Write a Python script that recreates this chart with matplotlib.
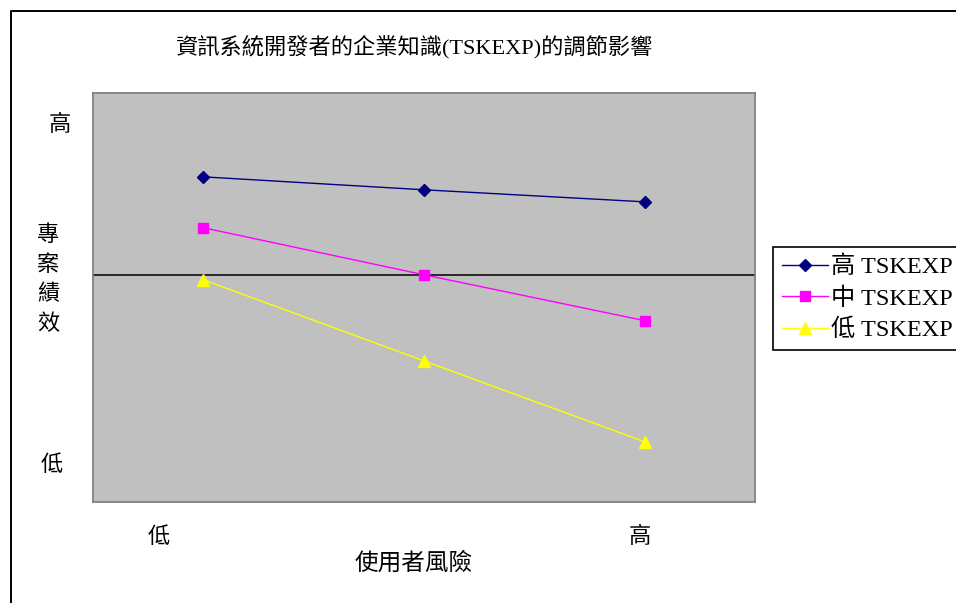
import matplotlib.pyplot as plt
from matplotlib.lines import Line2D

plt.rcParams['font.family'] = ['Liberation Serif', 'Noto Sans CJK TC', 'DejaVu Sans']

# 使用者風險 (低 / 中 / 高) 各組專案績效
risk_levels = ['低', '中', '高']
high_tskexp = [0.431, 0.374, 0.321]
mid_tskexp = [0.207, 0.000, -0.202]
low_tskexp = [-0.022, -0.379, -0.735]

series_names = ['高 TSKEXP', '中 TSKEXP', '低 TSKEXP']
x_tick_labels = ['低', '高']
y_tick_labels = ['高', '低']

W, H = 956, 603
fig = plt.figure(figsize=(W / 100, H / 100), dpi=100)
fig.patch.set_facecolor('white')

# 外框 (右、下兩邊落在圖外)
fig.add_artist(Line2D([11 / W, 11 / W, 1.0], [0.0, 1 - 11 / H, 1 - 11 / H],
                      transform=fig.transFigure, color='black', lw=1.4))

ax = fig.add_axes([93 / W, 1 - 502 / H, 662 / W, 409 / H])
ax.set_facecolor('#C0C0C0')
for sp in ax.spines.values():
    sp.set_color('#808080')
    sp.set_linewidth(1.3)

x = [i + 0.5 for i in range(len(risk_levels))]
ax.axhline(0, color='black', lw=1.1, zorder=1)
ax.plot(x, high_tskexp, color='#000080', lw=1.0, marker='D', ms=6,
        label=series_names[0], zorder=3)
ax.plot(x, mid_tskexp, color='#FF00FF', lw=1.0, marker='s', ms=7,
        label=series_names[1], zorder=3)
ax.plot(x, low_tskexp, color='#FFFF00', lw=1.0, marker='^', ms=8,
        label=series_names[2], zorder=3)

ax.set_xlim(0, 3)
ax.set_ylim(-1.0, 0.8)

ax.set_xticks([0.30, 2.48])
ax.set_xticklabels(x_tick_labels)
ax.set_yticks([])
ax.tick_params(axis='x', length=0, labelsize=16, pad=18)

# 縱軸的「高 / 低」標示
ytrans = ax.get_yaxis_transform()
ax.text(-0.050, 0.655, y_tick_labels[0], transform=ytrans,
        ha='center', va='center', fontsize=16)
ax.text(-0.062, -0.841, y_tick_labels[1], transform=ytrans,
        ha='center', va='center', fontsize=16)

fig.text(415 / W, 1 - 47 / H, '資訊系統開發者的企業知識(TSKEXP)的調節影響',
         ha='center', va='center', fontsize=16)
fig.text(414 / W, 1 - 563 / H, '使用者風險', ha='center', va='center', fontsize=17)
fig.text(48 / W, 1 - 280 / H, '專\n案\n績\n效', ha='center', va='center',
         fontsize=16, linespacing=1.6)

leg = ax.legend(loc='upper left', bbox_to_anchor=(773 / W, 1 - 247 / H),
                bbox_transform=fig.transFigure, fontsize=17.5, frameon=True,
                fancybox=False, edgecolor='black', framealpha=1,
                handlelength=1.9, handletextpad=0.15, borderpad=0.35,
                labelspacing=0.38, borderaxespad=0)
leg.get_frame().set_linewidth(1.2)

fig.savefig('out.png', dpi=100)
